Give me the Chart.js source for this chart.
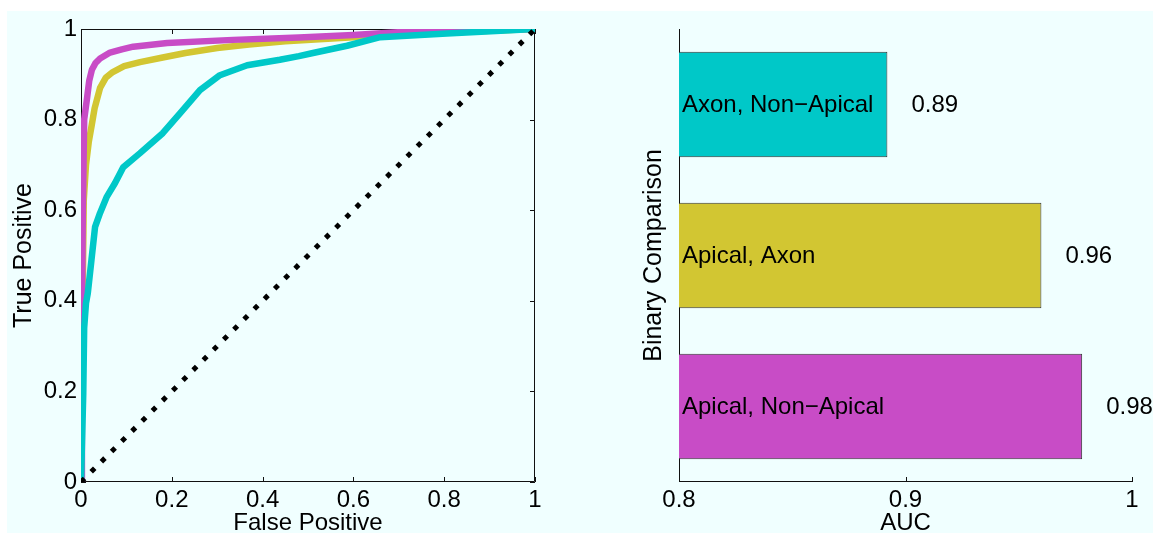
<!DOCTYPE html>
<html>
<head>
<meta charset="utf-8">
<script src="https://cdn.jsdelivr.net/npm/chart.js@4.4.1/dist/chart.umd.min.js"></script>
<style>
  body { margin: 0; background: #fff; }
  #wrap { position: relative; width: 1153px; height: 533px; overflow: hidden; }
  #bg { position: absolute; left: 7px; top: 11px; right: 0; bottom: 0; background: #f0ffff; }
  canvas { position: absolute; top: 0; }
  #rocChart { left: 0; }
  #aucChart { left: 570px; }
</style>
</head>
<body>
<div id="wrap">
  <div id="bg"></div>
  <canvas id="rocChart" width="570" height="533"></canvas>
  <canvas id="aucChart" width="583" height="533"></canvas>
</div>
<script>
// ROC curves (false positive rate / true positive rate)
const apicalNonApicalFpr = [0, 0.002, 0.004, 0.007, 0.013, 0.018, 0.024, 0.032, 0.042, 0.064, 0.09, 0.115, 0.19, 0.335, 0.48, 0.6, 0.7, 0.85, 1];
const apicalNonApicalTpr = [0, 0.35, 0.6, 0.8, 0.845, 0.885, 0.91, 0.925, 0.935, 0.948, 0.955, 0.961, 0.969, 0.976, 0.981, 0.987, 0.993, 0.997, 1];

const apicalAxonFpr = [0, 0.003, 0.006, 0.011, 0.017, 0.024, 0.03, 0.042, 0.055, 0.07, 0.095, 0.13, 0.18, 0.23, 0.3, 0.37, 0.45, 0.6, 0.75, 1];
const apicalAxonTpr = [0, 0.35, 0.62, 0.7, 0.75, 0.79, 0.825, 0.87, 0.893, 0.905, 0.918, 0.927, 0.937, 0.947, 0.958, 0.966, 0.973, 0.982, 0.99, 1];

const axonNonApicalFpr = [0, 0.005, 0.007, 0.011, 0.015, 0.023, 0.031, 0.042, 0.057, 0.075, 0.093, 0.13, 0.18, 0.218, 0.262, 0.306, 0.366, 0.438, 0.48, 0.511, 0.586, 0.659, 0.806, 1];
const axonNonApicalTpr = [0, 0.196, 0.34, 0.395, 0.417, 0.49, 0.563, 0.594, 0.63, 0.66, 0.695, 0.726, 0.77, 0.814, 0.865, 0.898, 0.92, 0.932, 0.94, 0.947, 0.963, 0.982, 0.99, 1];

const chanceLine = [0, 1];

// AUC per binary comparison
const comparisons = ['Axon, Non\u2212Apical', 'Apical, Axon', 'Apical, Non\u2212Apical'];
const aucValues = [0.892, 0.960, 0.978];

const rocTicks = [0, 0.2, 0.4, 0.6, 0.8, 1];
const aucTicks = [0.8, 0.9, 1];

const CYAN = '#00c8c8';
const YELLOW = '#d2c632';
const MAGENTA = '#c84cc6';
const FONT = "'Liberation Sans', Arial, Helvetica, sans-serif";

const toPoints = (xs, ys) => xs.map((x, i) => ({x: x, y: ys[i]}));
const tickLabel = v => String(v);

const curve = (xs, ys, color) => ({
	data: toPoints(xs, ys),
	borderColor: color,
	borderWidth: 6.5,
	pointRadius: 0,
	tension: 0,
	borderJoinStyle: 'round',
	clip: 0
});

// Box round the plot area with ticks pointing inwards
const boxTicks = {
	id: 'boxTicks',
	beforeDatasetsDraw(chart, args, opts) {
		const {ctx, chartArea: a, scales: {x, y}} = chart;
		ctx.save();
		ctx.strokeStyle = '#111';
		ctx.lineWidth = 1;
		ctx.beginPath();
		if (opts.full) {
			ctx.rect(a.left + 0.5, a.top + 0.5, a.right - a.left - 1, a.bottom - a.top - 1);
		} else {
			ctx.moveTo(a.left + 0.5, a.top);
			ctx.lineTo(a.left + 0.5, a.bottom - 0.5);
			ctx.lineTo(a.right, a.bottom - 0.5);
		}
		x.ticks.forEach(t => {
			const px = Math.round(x.getPixelForValue(t.value)) + 0.5;
			ctx.moveTo(px, a.bottom);
			ctx.lineTo(px, a.bottom - 5);
			if (opts.full) {
				ctx.moveTo(px, a.top);
				ctx.lineTo(px, a.top + 5);
			}
		});
		if (opts.full) {
			y.ticks.forEach(t => {
				const py = Math.round(y.getPixelForValue(t.value)) + 0.5;
				ctx.moveTo(a.left, py);
				ctx.lineTo(a.left + 5, py);
				ctx.moveTo(a.right, py);
				ctx.lineTo(a.right - 5, py);
			});
		}
		ctx.stroke();
		ctx.restore();
	}
};

// Comparison name inside each bar, AUC value just past its end
const barLabels = {
	id: 'barLabels',
	afterDatasetsDraw(chart) {
		const {ctx, scales: {x}} = chart;
		const meta = chart.getDatasetMeta(0);
		const left = x.getPixelForValue(x.min);
		ctx.save();
		ctx.font = '24px ' + FONT;
		ctx.fillStyle = '#000';
		ctx.textBaseline = 'middle';
		ctx.textAlign = 'left';
		meta.data.forEach((bar, i) => {
			ctx.fillText(comparisons[i], left + 3, bar.y + 1);
			ctx.fillText(aucValues[i].toFixed(2), x.getPixelForValue(aucValues[i]) + 24, bar.y + 1);
		});
		ctx.restore();
	}
};

Chart.defaults.font.family = FONT;
Chart.defaults.color = '#000';

new Chart(document.getElementById('rocChart'), {
	type: 'line',
	data: {
		datasets: [
			{
				data: toPoints(chanceLine, chanceLine),
				borderColor: '#000',
				borderWidth: 5,
				borderDash: [5, 9.4],
				pointRadius: 0,
				clip: 0
			},
			curve(axonNonApicalFpr, axonNonApicalTpr, CYAN),
			curve(apicalNonApicalFpr, apicalNonApicalTpr, MAGENTA),
			curve(apicalAxonFpr, apicalAxonTpr, YELLOW)
		]
	},
	options: {
		responsive: false,
		animation: false,
		devicePixelRatio: 1,
		layout: {padding: {top: 29, right: 35, left: 0, bottom: 0}},
		plugins: {legend: {display: false}, tooltip: {enabled: false}, boxTicks: {full: true}},
		scales: {
			x: {
				type: 'linear',
				min: 0,
				max: 1,
				afterBuildTicks: s => { s.ticks = rocTicks.map(v => ({value: v})); },
				afterFit: s => { s.height = 51; },
				ticks: {font: {size: 24}, padding: 4, maxRotation: 0, callback: tickLabel},
				grid: {display: false, drawTicks: false},
				border: {display: false},
				title: {display: true, text: 'False Positive', font: {size: 24, lineHeight: 1}, padding: {top: 0, bottom: -2}}
			},
			y: {
				type: 'linear',
				min: 0,
				max: 1,
				afterBuildTicks: s => { s.ticks = rocTicks.map(v => ({value: v})); },
				afterFit: s => { s.width = 81; },
				ticks: {font: {size: 24}, padding: 4, callback: tickLabel},
				grid: {display: false, drawTicks: false},
				border: {display: false},
				title: {display: true, text: 'True Positive', font: {size: 25, lineHeight: 1}, padding: {top: 12, bottom: 0}}
			}
		}
	},
	plugins: [boxTicks]
});

new Chart(document.getElementById('aucChart'), {
	type: 'bar',
	data: {
		labels: comparisons,
		datasets: [{
			data: aucValues,
			backgroundColor: [CYAN, YELLOW, MAGENTA],
			borderColor: '#333',
			borderWidth: 1,
			borderSkipped: false,
			barPercentage: 0.7,
			categoryPercentage: 1
		}]
	},
	options: {
		indexAxis: 'y',
		responsive: false,
		animation: false,
		devicePixelRatio: 1,
		layout: {padding: {top: 29, right: 21, left: 0, bottom: 0}},
		plugins: {legend: {display: false}, tooltip: {enabled: false}, boxTicks: {full: false}},
		scales: {
			x: {
				type: 'linear',
				min: 0.8,
				max: 1,
				afterBuildTicks: s => { s.ticks = aucTicks.map(v => ({value: v})); },
				afterFit: s => { s.height = 51; },
				ticks: {font: {size: 24}, padding: 4, maxRotation: 0, callback: tickLabel},
				grid: {display: false, drawTicks: false},
				border: {display: false},
				title: {display: true, text: 'AUC', font: {size: 24, lineHeight: 1}, padding: {top: 0, bottom: -2}}
			},
			y: {
				afterFit: s => { s.width = 109; },
				ticks: {display: false},
				grid: {display: false, drawTicks: false},
				border: {display: false},
				title: {display: true, text: 'Binary Comparison', font: {size: 25, lineHeight: 1}, padding: {top: 72, bottom: 0}}
			}
		}
	},
	plugins: [boxTicks, barLabels]
});
</script>
</body>
</html>
